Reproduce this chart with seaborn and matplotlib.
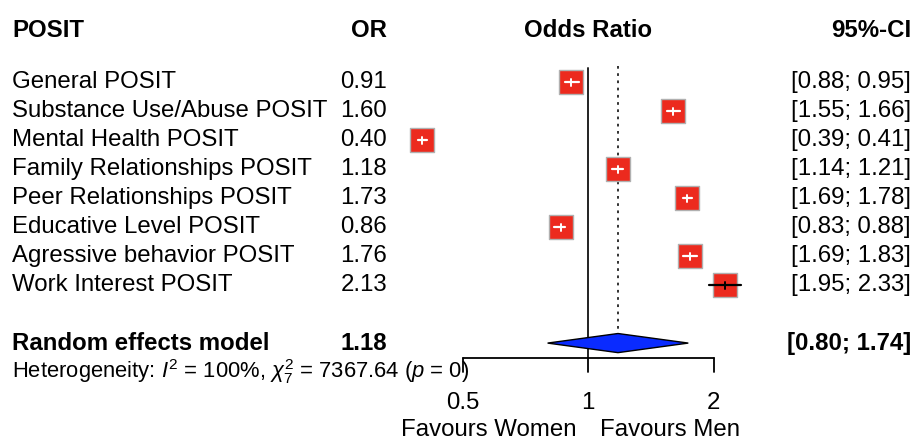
import numpy as np
import pandas as pd
import matplotlib
matplotlib.use("Agg")
import matplotlib.pyplot as plt
import matplotlib.transforms as mtransforms
import seaborn as sns

# data
studies = ["General POSIT", "Substance Use/Abuse POSIT", "Mental Health POSIT",
           "Family Relationships POSIT", "Peer Relationships POSIT",
           "Educative Level POSIT", "Agressive behavior POSIT", "Work Interest POSIT"]
odds = [0.91, 1.60, 0.40, 1.18, 1.73, 0.86, 1.76, 2.13]
ci_low = [0.88, 1.55, 0.39, 1.14, 1.69, 0.83, 1.69, 1.95]
ci_high = [0.95, 1.66, 0.41, 1.21, 1.78, 0.88, 1.83, 2.33]
pooled = 1.18
pooled_low = 0.80
pooled_high = 1.74
ticks = [0.5, 1, 2]
tick_labels = ["0.5", "1", "2"]

df = pd.DataFrame({"study": studies, "OR": odds, "lo": ci_low, "hi": ci_high})
df["row"] = range(len(df))

sns.set_style("white")
plt.rcParams["font.family"] = ["Liberation Sans", "DejaVu Sans"]
plt.rcParams["text.color"] = "black"
plt.rcParams["mathtext.fontset"] = "custom"
plt.rcParams["mathtext.rm"] = "Liberation Sans"
plt.rcParams["mathtext.it"] = "Liberation Sans:italic"
fs = 17.3

fig = plt.figure(figsize=(9.17, 4.44), dpi=100)
ax = fig.add_axes([0, 0, 1, 1])
ax.set_xscale("log")
# px 0 -> 917 mapped to a log axis with 1 at px 588 and 125.5 px per doubling
ax.set_xlim(2 ** (-588 / 125.5), 2 ** ((917 - 588) / 125.5))
ax.set_ylim(12.48, -2.83)
ax.axis("off")

red = "#EC2A1E"
sq_half = 11.5 / 125.5  # half square width in log2 units

# reference lines
ax.plot([1, 1], [-0.5, 9.52], color="#222222", lw=1.4)
ax.plot([pooled, pooled], [-0.55, 8.65], color="#222222", lw=1.3, ls=(0, (1.5, 2.5)))

# squares
sns.scatterplot(data=df, x="OR", y="row", marker="s", s=290, color=red,
                edgecolor="#B0B0B0", linewidth=1.0, ax=ax, zorder=3, legend=False)

# CI lines: white if inside the square, black otherwise
for _, r in df.iterrows():
    outside = (np.log2(r.hi) - np.log2(r.OR) > sq_half) or (np.log2(r.OR) - np.log2(r.lo) > sq_half)
    c = "black" if outside else "white"
    ax.plot([r.lo, r.hi], [r.row, r.row], color=c, lw=1.6, zorder=4)
    ax.plot([r.OR, r.OR], [r.row - 0.12, r.row + 0.12], color=c, lw=1.4, zorder=4)

# diamond for random effects model
h = 0.33
ax.fill([pooled_low, pooled, pooled_high, pooled], [9, 9 - h, 9, 9 + h],
        facecolor="#0A2BFF", edgecolor="black", lw=1.0, zorder=3)

# x axis drawn by hand
ax.plot([ticks[0], ticks[-1]], [9.52, 9.52], color="black", lw=1.3)
for t, lab in zip(ticks, tick_labels):
    ax.plot([t, t], [9.52, 10.0], color="black", lw=1.3)
    ax.text(t, 11.07, lab, ha="center", va="center", fontsize=fs)
ax.text(0.94, 12.0, "Favours Women", ha="right", va="center", fontsize=fs)
ax.text(1.07, 12.0, "Favours Men", ha="left", va="center", fontsize=fs)

# text columns
tr = mtransforms.blended_transform_factory(ax.transAxes, ax.transData)
x_lab, x_or, x_ci = 12 / 917, 387 / 917, 911 / 917
ax.text(x_lab, -1.79, "POSIT", transform=tr, ha="left", va="center", fontsize=fs, fontweight="bold")
ax.text(x_or, -1.79, "OR", transform=tr, ha="right", va="center", fontsize=fs, fontweight="bold")
ax.text(1, -1.79, "Odds Ratio", ha="center", va="center", fontsize=fs, fontweight="bold")
ax.text(x_ci, -1.79, "95%-CI", transform=tr, ha="right", va="center", fontsize=fs, fontweight="bold")

for _, r in df.iterrows():
    ax.text(x_lab, r.row, r.study, transform=tr, ha="left", va="center", fontsize=fs)
    ax.text(x_or, r.row, f"{r.OR:.2f}", transform=tr, ha="right", va="center", fontsize=fs)
    ax.text(x_ci, r.row, f"[{r.lo:.2f}; {r.hi:.2f}]", transform=tr, ha="right", va="center", fontsize=fs)

ax.text(x_lab, 9.0, "Random effects model", transform=tr, ha="left", va="center",
        fontsize=fs, fontweight="bold")
ax.text(x_or, 9.0, f"{pooled:.2f}", transform=tr, ha="right", va="center", fontsize=fs, fontweight="bold")
ax.text(x_ci, 9.0, f"[{pooled_low:.2f}; {pooled_high:.2f}]", transform=tr, ha="right", va="center",
        fontsize=fs, fontweight="bold")
ax.text(x_lab, 9.97, r"Heterogeneity: $I^2$ = 100%, $\chi^2_7$ = 7367.64 ($p$ = 0)",
        transform=tr, ha="left", va="center", fontsize=15.8)

fig.savefig("out.png", dpi=100)
